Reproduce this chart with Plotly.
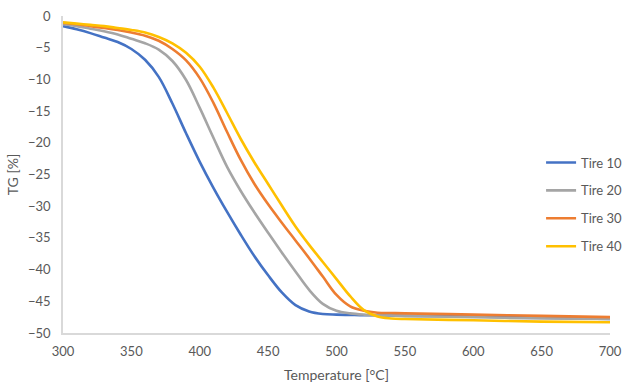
import plotly.graph_objects as go

temps = [300, 310, 320, 330, 340, 350, 360, 370, 380, 390, 400, 410, 420, 430, 440,
         450, 460, 470, 480, 490, 500, 510, 520, 530, 540, 550, 600, 650, 700]

tire10 = [-1.6, -2.1, -2.7, -3.4, -4.1, -5.2, -6.9, -9.6, -13.8, -18.5, -23.0, -27.1, -30.9, -34.5, -37.9,
          -40.9, -43.6, -45.6, -46.6, -47.0, -47.1, -47.15, -47.2, -47.2, -47.25, -47.3, -47.4, -47.6, -47.8]
tire20 = [-1.3, -1.6, -2.0, -2.4, -2.9, -3.6, -4.3, -5.3, -7.1, -10.1, -14.5, -19.2, -23.8, -27.6, -31.0,
          -34.2, -37.3, -40.3, -43.2, -45.4, -46.5, -46.9, -47.1, -47.2, -47.25, -47.3, -47.5, -47.7, -47.8]
tire30 = [-1.1, -1.3, -1.6, -1.9, -2.2, -2.6, -3.1, -3.9, -5.2, -7.0, -9.8, -13.7, -18.3, -22.7, -26.5,
          -29.7, -32.6, -35.4, -38.2, -41.1, -44.0, -45.8, -46.5, -46.8, -46.85, -46.9, -47.1, -47.3, -47.5]
tire40 = [-1.0, -1.2, -1.4, -1.6, -1.9, -2.2, -2.6, -3.3, -4.3, -5.8, -8.0, -11.3, -15.3, -19.4, -23.1,
          -26.5, -29.9, -33.2, -36.1, -38.8, -41.5, -44.2, -46.4, -47.4, -47.7, -47.8, -48.0, -48.2, -48.3]

series = [("Tire 10", tire10, "#4472C4"),
          ("Tire 20", tire20, "#A5A5A5"),
          ("Tire 30", tire30, "#ED7D31"),
          ("Tire 40", tire40, "#FFC000")]

FONT = "Lato"
TXT = "#595959"

fig = go.Figure()
for name, vals, col in series:
    fig.add_trace(go.Scatter(x=temps, y=vals, name=name, mode="lines",
                             line=dict(color=col, width=2.6, shape="spline", smoothing=1.0),
                             legendgroup=name))

fig.update_layout(
    width=626, height=388,
    margin=dict(l=63, r=16, t=16, b=55, autoexpand=False),
    paper_bgcolor="white", plot_bgcolor="white",
    font=dict(family=FONT, size=13, color=TXT),
    showlegend=True,
    legend=dict(x=0.874, y=0.585, xanchor="left", yanchor="top",
                tracegroupgap=8, font=dict(family=FONT, size=13, color=TXT),
                bgcolor="rgba(0,0,0,0)"),
    xaxis=dict(range=[300, 700], tickmode="linear", tick0=300, dtick=50,
               showgrid=False, zeroline=False, showline=True, linecolor="#D9D9D9", linewidth=1.5,
               ticks="", ticklabelstandoff=6, tickfont=dict(size=13),
               title=dict(text="Temperature [°C]", font=dict(family=FONT, size=14, color=TXT), standoff=12)),
    yaxis=dict(range=[-50, 0], tickmode="linear", tick0=-50, dtick=5,
               showgrid=False, zeroline=False, showline=True, linecolor="#D9D9D9", linewidth=1.5,
               ticks="", ticklabelstandoff=8, tickfont=dict(size=13),
               title=dict(text="TG [%]", font=dict(family=FONT, size=14, color=TXT), standoff=6)),
)

fig.write_html("out.html")
